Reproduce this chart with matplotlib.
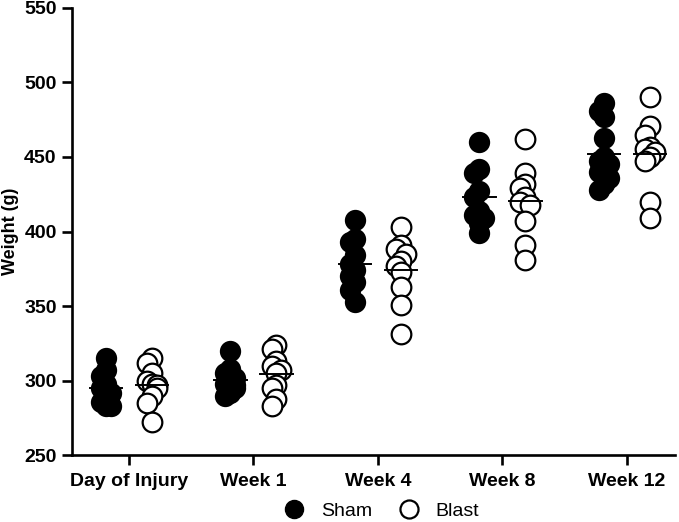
import numpy as np
import matplotlib
matplotlib.use('Agg')
import matplotlib.pyplot as plt
from matplotlib.lines import Line2D

plt.rcParams['font.family'] = ['Liberation Sans', 'DejaVu Sans']

timepoints = ['Day of Injury', 'Week 1', 'Week 4', 'Week 8', 'Week 12']

# body weight (g) per animal
sham = [
    [315, 307, 303, 298, 295, 292, 290, 286, 283, 283],
    [320, 308, 305, 302, 300, 298, 297, 295, 292, 290],
    [408, 395, 393, 384, 378, 374, 370, 366, 361, 353],
    [460, 442, 439, 427, 423, 414, 411, 409, 406, 399],
    [486, 481, 477, 463, 450, 447, 445, 442, 440, 436, 432, 428],
]
blast = [
    [315, 312, 305, 300, 298, 297, 295, 290, 285, 272],
    [324, 321, 313, 310, 307, 305, 297, 295, 288, 283],
    [403, 391, 388, 385, 380, 377, 373, 363, 351, 331],
    [462, 439, 432, 429, 423, 420, 418, 407, 391, 381],
    [490, 471, 465, 457, 455, 453, 450, 447, 420, 409],
]


def swarm_offsets(vals, thresh=6.0, step=0.04):
    # small deterministic spread so overlapping points sit side by side
    order = np.argsort(vals)[::-1]
    placed = []
    offs = np.zeros(len(vals))
    for i in order:
        v = vals[i]
        for k in [0, -1, 1]:
            o = k * step
            if all(abs(v - pv) > thresh or abs(o - po) > 1e-9 for pv, po in placed):
                break
        offs[i] = o
        placed.append((v, o))
    return offs


fig = plt.figure(figsize=(6.79, 5.22), dpi=100)
ax = fig.add_axes([0.106, 0.128, 0.888, 0.857])

shift = 0.185
for i, (s, b) in enumerate(zip(sham, blast)):
    s = np.array(s, dtype=float)
    b = np.array(b, dtype=float)
    ax.scatter(i - shift + swarm_offsets(s), s, s=200, color='black',
               edgecolors='black', linewidths=1.2, zorder=3)
    ax.scatter(i + shift + swarm_offsets(b), b, s=200, facecolors='white',
               edgecolors='black', linewidths=1.6, zorder=3)
    for x0, arr in [(i - shift, s), (i + shift, b)]:
        ax.plot([x0 - 0.13, x0 + 0.13], [arr.mean()] * 2, color='black',
                lw=1.4, zorder=4)

ax.set_xlim(-0.458, 4.386)
ax.set_ylim(250, 550)
ax.set_yticks(np.arange(250, 551, 50))
ax.set_xticks(range(len(timepoints)))
ax.set_xticklabels(timepoints, fontweight='bold', fontsize=14)
for lab in ax.get_yticklabels():
    lab.set_fontweight('bold')
    lab.set_fontsize(14)
ax.set_ylabel('Weight (g)', fontweight='bold', fontsize=13, labelpad=4)

for side in ['top', 'right']:
    ax.spines[side].set_visible(False)
for side in ['left', 'bottom']:
    ax.spines[side].set_linewidth(1.9)
ax.tick_params(axis='both', direction='out', length=7, width=1.9, pad=4)
ax.tick_params(axis='x', pad=6)

handles = [
    Line2D([], [], marker='o', linestyle='none', markersize=13,
           markerfacecolor='black', markeredgecolor='black'),
    Line2D([], [], marker='o', linestyle='none', markersize=13,
           markerfacecolor='white', markeredgecolor='black', markeredgewidth=1.6),
]
fig.legend(handles, ['Sham', 'Blast'], loc='lower center', ncol=2,
           bbox_to_anchor=(0.555, -0.03), frameon=False, fontsize=14,
           handletextpad=0.35, columnspacing=0.9)

fig.savefig('out.png', dpi=100)
plt.close(fig)
